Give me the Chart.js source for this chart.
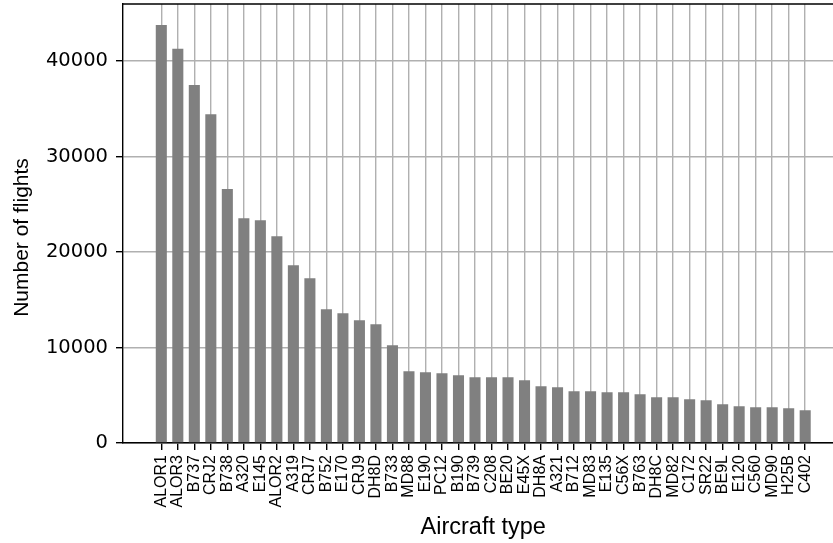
<!DOCTYPE html>
<html>
<head>
<meta charset="utf-8">
<script src="https://cdn.jsdelivr.net/npm/chart.js@4.4.1/dist/chart.umd.min.js"></script>
<style>
  html, body { margin: 0; padding: 0; background: #fff; overflow: hidden; }
  #wrap { width: 870px; height: 543px; }
</style>
</head>
<body>
<div id="wrap"><canvas id="canvas" width="870" height="543"></canvas></div>
<script>
// aircraft types, sorted by number of flights
var types = ['ALOR1', 'ALOR3', 'B737', 'CRJ2', 'B738', 'A320', 'E145', 'ALOR2', 'A319', 'CRJ7',
             'B752', 'E170', 'CRJ9', 'DH8D', 'B733', 'MD88', 'E190', 'PC12', 'B190', 'B739',
             'C208', 'BE20', 'E45X', 'DH8A', 'A321', 'B712', 'MD83', 'E135', 'C56X', 'B763',
             'DH8C', 'MD82', 'C172', 'SR22', 'BE9L', 'E120', 'C560', 'MD90', 'H25B', 'C402'];

var flights = [43800, 41300, 37500, 34450, 26600, 23550, 23340, 21660, 18620, 17260,
               14010, 13590, 12860, 12440, 10240, 7510, 7410, 7300, 7100, 6890,
               6890, 6890, 6570, 5940, 5840, 5420, 5420, 5310, 5310, 5100,
               4790, 4790, 4580, 4470, 4060, 3850, 3740, 3740, 3640, 3430];

var yTicks = [0, 10000, 20000, 30000, 40000];

// axis limits (matplotlib style margins)
var xMin = -2.32, xMax = 41.32;
var yMax = 45990;

var points = types.map(function (t, i) { return { x: i, y: flights[i] }; });

// top/right spines + y label (sits a bit below the axes centre in the original)
var frame = {
  id: 'frame',
  afterDraw: function (chart) {
    var a = chart.chartArea, ctx = chart.ctx;
    ctx.save();
    ctx.strokeStyle = '#000';
    ctx.lineWidth = 1.4;
    ctx.beginPath();
    ctx.moveTo(a.left, a.top);
    ctx.lineTo(a.right, a.top);
    ctx.lineTo(a.right, a.bottom);
    ctx.stroke();

    ctx.translate(22, 237.5);
    ctx.rotate(-Math.PI / 2);
    ctx.fillStyle = '#000';
    ctx.font = '21px "Liberation Sans"';
    ctx.textAlign = 'center';
    ctx.textBaseline = 'middle';
    ctx.fillText('Number of flights', 0, 0);
    ctx.restore();
  }
};

Chart.defaults.color = '#000';

new Chart(document.getElementById('canvas'), {
  type: 'bar',
  data: {
    datasets: [{
      data: points,
      backgroundColor: '#808080',
      borderWidth: 0,
      barPercentage: 0.67,
      categoryPercentage: 1.0
    }]
  },
  options: {
    responsive: false,
    animation: false,
    devicePixelRatio: 1,
    layout: { padding: { top: 4, right: 26.5, left: 0, bottom: 0 } },
    plugins: { legend: { display: false }, tooltip: { enabled: false } },
    scales: {
      x: {
        type: 'linear',
        min: xMin,
        max: xMax,
        offset: false,
        z: 1,
        grid: { offset: false, color: '#b0b0b0', lineWidth: 1.4, tickColor: '#000', tickWidth: 1.4, tickLength: 7 },
        border: { color: '#000', width: 1.4 },
        ticks: {
          minRotation: 90, maxRotation: 90, autoSkip: false, padding: 5,
          font: { family: 'Liberation Sans', size: 16 },
          callback: function (v) { return types[v] !== undefined ? types[v] : ''; }
        },
        afterBuildTicks: function (s) { s.ticks = types.map(function (t, i) { return { value: i }; }); },
        afterFit: function (s) { s.height = 100; s.paddingLeft = 0; s.paddingRight = 0; },
        title: {
          display: true, text: 'Aircraft type',
          font: { family: 'Liberation Sans', size: 23.5 },
          padding: { top: 0, bottom: 1 }
        }
      },
      y: {
        min: 0,
        max: yMax,
        z: 1,
        grid: { color: '#b0b0b0', lineWidth: 1.4, tickColor: '#000', tickWidth: 1.4, tickLength: 7 },
        border: { color: '#000', width: 1.4 },
        ticks: {
          padding: 8,
          font: { family: 'DejaVu Sans', size: 19.5 },
          callback: function (v) { return String(v); }
        },
        afterBuildTicks: function (s) { s.ticks = yTicks.map(function (v) { return { value: v }; }); },
        afterFit: function (s) { s.width = 123; s.paddingTop = 0; s.paddingBottom = 0; },
        title: { display: false }
      }
    }
  },
  plugins: [frame]
});
</script>
</body>
</html>
